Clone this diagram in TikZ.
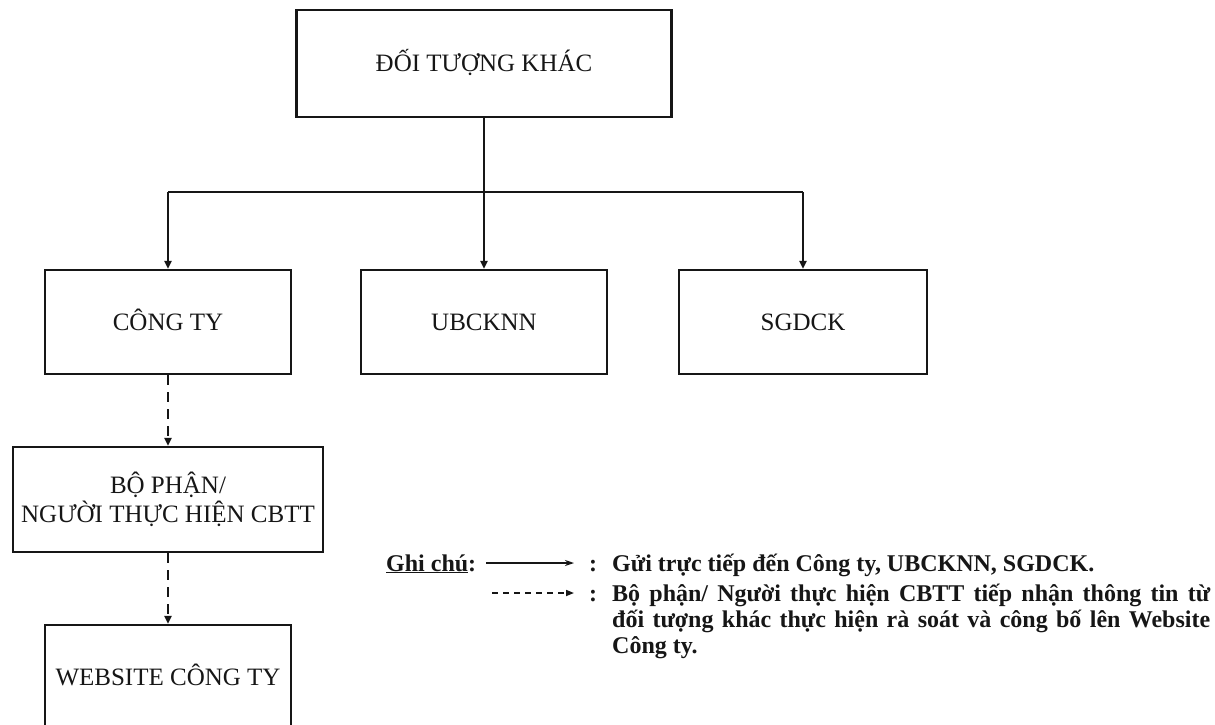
\documentclass[tikz,border=0pt]{standalone}
\usepackage{fontspec}
\setmainfont{Liberation Serif}
\usetikzlibrary{arrows.meta}
\definecolor{ink}{HTML}{161616}
\tikzset{
  box/.style={draw=ink, line width=2.2pt, fill=white, text=ink, inner sep=0pt,
    font=\fontsize{25}{30}\selectfont, align=center},
  oneline/.style={text height=16pt, text depth=0pt},
  wire/.style={draw=ink, line width=2.2pt},
  arr/.style={wire, -{Triangle[length=8pt,width=7pt]}},
  dasharr/.style={arr, dash pattern=on 10pt off 7pt},
  legtext/.style={text=ink, inner sep=0pt, anchor=base west, font=\bfseries\fontsize{24}{25}\selectfont},
  legarr/.style={draw=ink, line width=1.6pt, -{Stealth[length=9pt,width=6pt]}},
  legdash/.style={legarr, -{Triangle[length=8pt,width=6pt]}, dash pattern=on 6pt off 5pt}
}
\begin{document}
\begin{tikzpicture}[x=1pt,y=-1pt]
\useasboundingbox[fill=white] (0,0) rectangle (1215,725);
% boxes
\node[box, oneline, minimum width=375pt, minimum height=107pt] (top) at (484,63.5) {ĐỐI TƯỢNG KHÁC};
\node[box, oneline, minimum width=246pt, minimum height=104pt] (cong) at (168,322) {CÔNG TY};
\node[box, oneline, minimum width=246pt, minimum height=104pt] (ub) at (484,322) {UBCKNN};
\node[box, oneline, minimum width=248pt, minimum height=104pt] (sg) at (803,322) {SGDCK};
\node[box, minimum width=310pt, minimum height=105pt] (bp) at (168,499.5) {BỘ PHẬN/\\[-1pt]NGƯỜI THỰC HIỆN CBTT};
\node[box, oneline, minimum width=246pt, minimum height=105pt] (web) at (168,677.5) {WEBSITE CÔNG TY};
% connectors
\coordinate (bus) at (0,192);
\draw[wire] (cong.north |- bus) -- (sg.north |- bus);
\draw[arr] (top.south) -- (ub.north);
\draw[arr] (cong.north |- bus) -- (cong.north);
\draw[arr] (sg.north |- bus) -- (sg.north);
\draw[dasharr] (cong.south) -- (bp.north);
\draw[dasharr] (bp.south) -- (web.north);
% legend
\node[legtext] (gc) at (386,571) {\underline{Ghi chú}:};
\coordinate (s1) at (486,563);
\coordinate (s2) at (574,563);
\draw[legarr] (s1) -- (s2);
\node[legtext] (c1) at (589,571) {:};
\node[legtext] (t1) at (612,571) {Gửi trực tiếp đến Công ty, UBCKNN, SGDCK.};
\coordinate (d1) at (492,593);
\coordinate (d2) at (574,593);
\draw[legdash] (d1) -- (d2);
\node[legtext] (c2) at (589,601) {:};
\node[legtext] (t2) at (612,601) {\makebox[598pt][s]{Bộ phận/ Người thực hiện CBTT tiếp nhận thông tin từ}};
\node[legtext] (t3) at (612,627) {\makebox[598pt][s]{đối tượng khác thực hiện rà soát và công bố lên Website}};
\node[legtext] (t4) at (612,653) {Công ty.};
\end{tikzpicture}
\end{document}
